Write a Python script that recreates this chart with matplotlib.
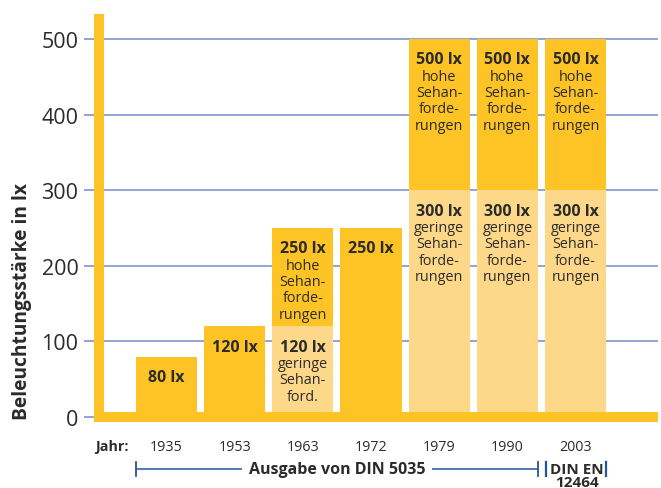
import matplotlib
matplotlib.use("Agg")
import matplotlib.pyplot as plt
from matplotlib.patches import Rectangle

plt.rcParams['font.family'] = ['Open Sans', 'DejaVu Sans']

years = ["1935", "1953", "1963", "1972", "1979", "1990", "2003"]
# lower segment (light for "geringe", dark for single bars) and upper segment
low_values = [80, 120, 120, 250, 300, 300, 300]
high_values = [0, 0, 130, 0, 200, 200, 200]
low_is_light = [False, False, True, False, True, True, True]
low_titles = ["80 lx", "120 lx", "120 lx", "250 lx", "300 lx", "300 lx", "300 lx"]
low_texts = [[], [], ["geringe", "Sehan-", "ford."], [],
             ["geringe", "Sehan-", "forde-", "rungen"],
             ["geringe", "Sehan-", "forde-", "rungen"],
             ["geringe", "Sehan-", "forde-", "rungen"]]
high_titles = ["", "", "250 lx", "", "500 lx", "500 lx", "500 lx"]
high_texts = [[], [], ["hohe", "Sehan-", "forde-", "rungen"], [],
              ["hohe", "Sehan-", "forde-", "rungen"],
              ["hohe", "Sehan-", "forde-", "rungen"],
              ["hohe", "Sehan-", "forde-", "rungen"]]
yticks = [0, 100, 200, 300, 400, 500]

DARK = "#FEC324"
LIGHT = "#FED889"
GRID = "#8A9DD2"
BLUE = "#2456A0"
TXT = "#2B2B2B"

fig = plt.figure(figsize=(6.61, 4.89), dpi=100)
ax = fig.add_axes([84 / 661, (489 - 423.3) / 489, (658 - 84) / 661, (423.3 - 15) / 489])
ax.set_xlim(-1.21, 7.21)
ax.set_ylim(-7, 533)
for s in ax.spines.values():
    s.set_visible(False)

# gridlines
for v in yticks:
    ax.axhline(v, color=GRID, lw=1.3, zorder=1)

x = list(range(len(years)))
w = 0.895
low_colors = [LIGHT if l else DARK for l in low_is_light]
ax.bar(x, low_values, width=w, color=low_colors, zorder=2, linewidth=0)
ax.bar(x, high_values, width=w, bottom=low_values, color=DARK, zorder=2, linewidth=0)

# yellow axis frame
ax.bar([-0.99], [540], width=0.147, bottom=-7, color=DARK, zorder=3, linewidth=0)
ax.add_patch(Rectangle((-1.063, -7), 8.27, 14, color=DARK, zorder=3, lw=0))

PT = 0.75  # points per pixel at 100 dpi


def label_block(i, y, title, lines):
    ax.annotate(title, xy=(i, y), xytext=(0, -23.5 * PT), textcoords='offset points',
                ha='center', va='baseline', fontsize=11.5, fontweight='bold',
                color=TXT, zorder=4)
    for k, line in enumerate(lines):
        ax.annotate(line, xy=(i, y), xytext=(0, -(39 + 15.7 * k) * PT),
                    textcoords='offset points', ha='center', va='baseline',
                    fontsize=10.4, color=TXT, zorder=4)


for i in x:
    label_block(i, low_values[i], low_titles[i], low_texts[i])
    if high_titles[i]:
        label_block(i, low_values[i] + high_values[i], high_titles[i], high_texts[i])

ax.set_yticks(yticks)
ax.set_yticklabels([str(v) for v in yticks], fontsize=15.5, color=TXT)
ax.tick_params(axis='y', length=0, pad=4)
ax.set_xticks(x)
ax.set_xticklabels(years, fontsize=10.3, color=TXT)
ax.tick_params(axis='x', length=0, pad=12)

ax.text(-0.8, -38, "Jahr:", ha='center', va='center', fontsize=10.3,
        fontweight='bold', color=TXT, clip_on=False)

fig.text(22 / 661, 1 - 302 / 489, "Beleuchtungsstärke in lx", rotation=90,
         ha='center', va='center', fontsize=13.8, fontweight='bold', color=TXT)

# bracket "Ausgabe von DIN 5035"
yb = -68.8
left_edge = x[0] - w / 2
right_edge = x[5] + w / 2
ax.plot([left_edge, right_edge], [yb, yb], color=BLUE, lw=1.1, clip_on=False)
ax.plot([left_edge, left_edge], [yb - 9.5, yb + 9.5], color=BLUE, lw=1.3, clip_on=False)
ax.plot([right_edge, right_edge], [yb - 9.5, yb + 9.5], color=BLUE, lw=1.3, clip_on=False)
ax.text((left_edge + right_edge) / 2, yb, "Ausgabe von DIN 5035", ha='center',
        va='center', fontsize=11.5, fontweight='bold', color=TXT, clip_on=False,
        bbox=dict(boxstyle='square,pad=0.4', fc='white', ec='none'))

# DIN EN 12464
l6 = x[6] - w / 2
r6 = x[6] + w / 2
ax.plot([l6 + 0.02, l6 + 0.02], [yb - 9.5, yb + 9.5], color=BLUE, lw=1.6, clip_on=False)
ax.plot([r6, r6], [yb - 9.5, yb + 9.5], color=BLUE, lw=1.6, clip_on=False)
ax.text(x[6] + 0.02, -74.5, "DIN EN", ha='center', va='baseline', fontsize=11,
        fontweight='bold', color=TXT, clip_on=False)
ax.text(x[6] + 0.02, -91.5, "12464", ha='center', va='baseline', fontsize=11,
        fontweight='bold', color=TXT, clip_on=False)

fig.savefig("out.png", dpi=100)
